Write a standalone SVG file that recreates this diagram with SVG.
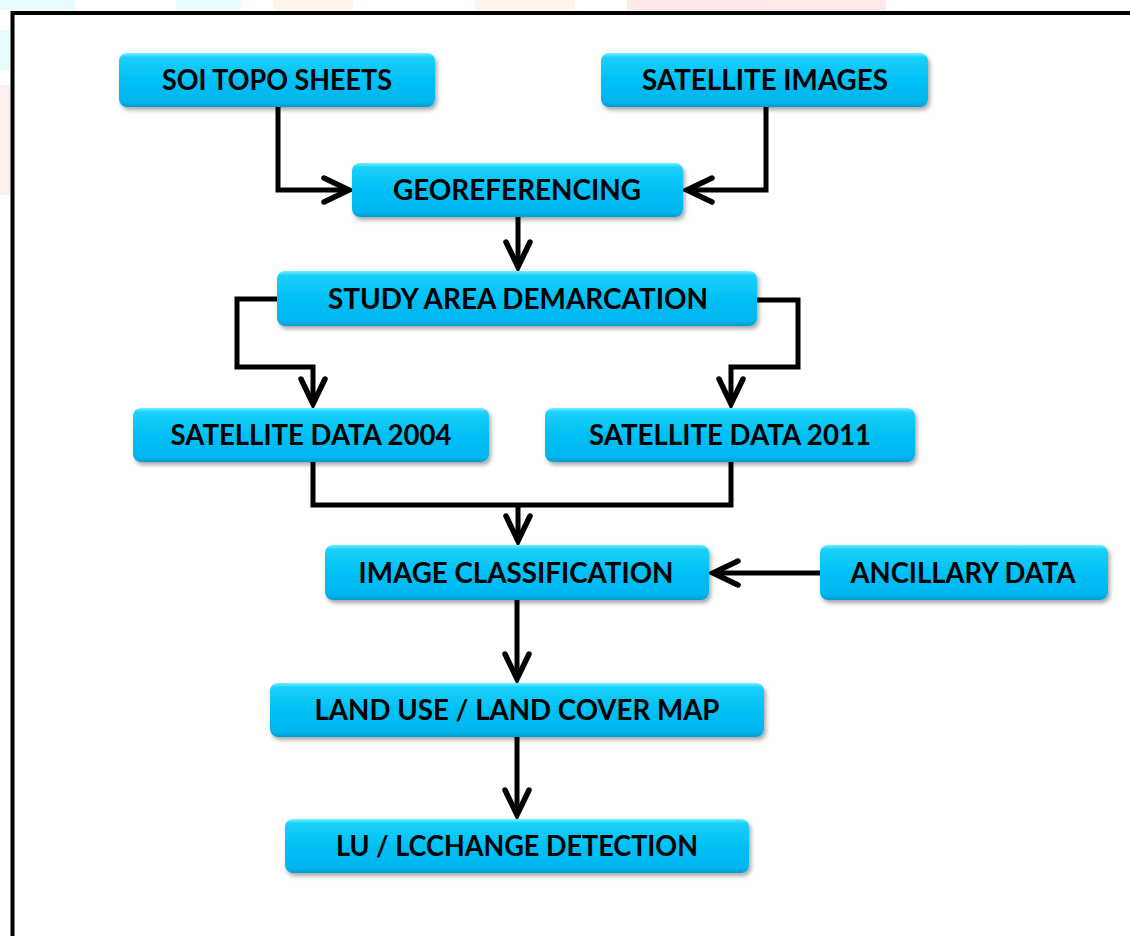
<svg xmlns="http://www.w3.org/2000/svg" width="1130" height="936" viewBox="0 0 1130 936">
<defs>
<linearGradient id="boxGrad" x1="0" y1="0" x2="0" y2="1">
<stop offset="0" stop-color="#6FF0FF"/>
<stop offset="0.08" stop-color="#1CD0FA"/>
<stop offset="0.5" stop-color="#00C0F5"/>
<stop offset="0.9" stop-color="#00B6EE"/>
<stop offset="1" stop-color="#009DD2"/>
</linearGradient>
<filter id="shadow" x="-10%" y="-20%" width="120%" height="150%">
<feDropShadow dx="2" dy="3" stdDeviation="2" flood-color="#000" flood-opacity="0.35"/>
</filter>
<marker id="arrow" markerUnits="userSpaceOnUse" markerWidth="40" markerHeight="40" viewBox="-35 -20 40 40" refX="0" refY="0" orient="auto" overflow="visible">
<path d="M-25,-12 L0,0 L-25,12" fill="none" stroke="#000" stroke-width="5.5" stroke-linejoin="miter" stroke-linecap="round"/>
</marker>
<style>
.box{fill:url(#boxGrad);filter:url(#shadow);}
.lbl{font-family:Lato,"Liberation Sans",sans-serif;font-weight:bold;font-size:28px;fill:#000;text-anchor:middle;}
.conn{fill:none;stroke:#000;stroke-width:5;stroke-linejoin:miter;}
</style>
</defs>
<rect x="0" y="0" width="1130" height="936" fill="#fff"/>
<g id="watermark" opacity="0.4">
<rect x="0" y="0" width="75" height="10" fill="#C8FAFF"/>
<rect x="176" y="0" width="65" height="10" fill="#C8FAFF"/>
<rect x="274" y="0" width="79" height="10" fill="#FFE6CC"/>
<rect x="475" y="0" width="100" height="10" fill="#FFE6CC"/>
<rect x="627" y="0" width="259" height="10" fill="#FFC8C0"/>
<rect x="0" y="30" width="10" height="40" fill="#C8FAFF"/>
<rect x="0" y="85" width="10" height="110" fill="#FFD8D8"/>
</g>
<g id="frame">
<path d="M12.5,936 V13 H1130" fill="none" stroke="#000" stroke-width="4"/>
</g>
<g id="connectors">
<path class="conn" d="M278,107 V190 H349" marker-end="url(#arrow)"/>
<path class="conn" d="M766,107 V190 H687" marker-end="url(#arrow)"/>
<path class="conn" d="M518,217 V267" marker-end="url(#arrow)"/>
<path class="conn" d="M277,299 H237 V367 H313 V404" marker-end="url(#arrow)"/>
<path class="conn" d="M757,300 H798 V367 H731 V404" marker-end="url(#arrow)"/>
<path class="conn" d="M313,462 V505 H731 V462"/>
<path class="conn" d="M518,505 V541" marker-end="url(#arrow)"/>
<path class="conn" d="M820,573 H713" marker-end="url(#arrow)"/>
<path class="conn" d="M517,600 V679" marker-end="url(#arrow)"/>
<path class="conn" d="M517,737 V815" marker-end="url(#arrow)"/>
</g>
<g id="soi">
<rect class="box" x="119" y="53" width="316" height="54" rx="8"/>
<text class="lbl" x="277" y="90" textLength="230" lengthAdjust="spacingAndGlyphs">SOI TOPO SHEETS</text>
</g>
<g id="satimg">
<rect class="box" x="601" y="53" width="327" height="54" rx="8"/>
<text class="lbl" x="765" y="90" textLength="246" lengthAdjust="spacingAndGlyphs">SATELLITE IMAGES</text>
</g>
<g id="georef">
<rect class="box" x="352" y="163" width="331" height="54" rx="8"/>
<text class="lbl" x="517" y="200" textLength="248" lengthAdjust="spacingAndGlyphs">GEOREFERENCING</text>
</g>
<g id="study">
<rect class="box" x="277" y="271" width="480" height="55" rx="8"/>
<text class="lbl" x="518" y="309" textLength="380" lengthAdjust="spacingAndGlyphs">STUDY AREA DEMARCATION</text>
</g>
<g id="sat2004">
<rect class="box" x="133" y="408" width="356" height="54" rx="8"/>
<text class="lbl" x="311" y="445" textLength="281" lengthAdjust="spacingAndGlyphs">SATELLITE DATA 2004</text>
</g>
<g id="sat2011">
<rect class="box" x="545" y="408" width="370" height="54" rx="8"/>
<text class="lbl" x="730" y="445" textLength="282" lengthAdjust="spacingAndGlyphs">SATELLITE DATA 2011</text>
</g>
<g id="imgclass">
<rect class="box" x="325" y="545" width="384" height="55" rx="8"/>
<text class="lbl" x="516" y="583" textLength="315" lengthAdjust="spacingAndGlyphs">IMAGE CLASSIFICATION</text>
</g>
<g id="ancillary">
<rect class="box" x="820" y="545" width="288" height="55" rx="8"/>
<text class="lbl" x="963" y="583" textLength="225" lengthAdjust="spacingAndGlyphs">ANCILLARY DATA</text>
</g>
<g id="landuse">
<rect class="box" x="270" y="683" width="494" height="54" rx="8"/>
<text class="lbl" x="517" y="720" textLength="405" lengthAdjust="spacingAndGlyphs">LAND USE / LAND COVER MAP</text>
</g>
<g id="lucc">
<rect class="box" x="285" y="819" width="464" height="54" rx="8"/>
<text class="lbl" x="517" y="856" textLength="362" lengthAdjust="spacingAndGlyphs">LU / LCCHANGE DETECTION</text>
</g>
</svg>
